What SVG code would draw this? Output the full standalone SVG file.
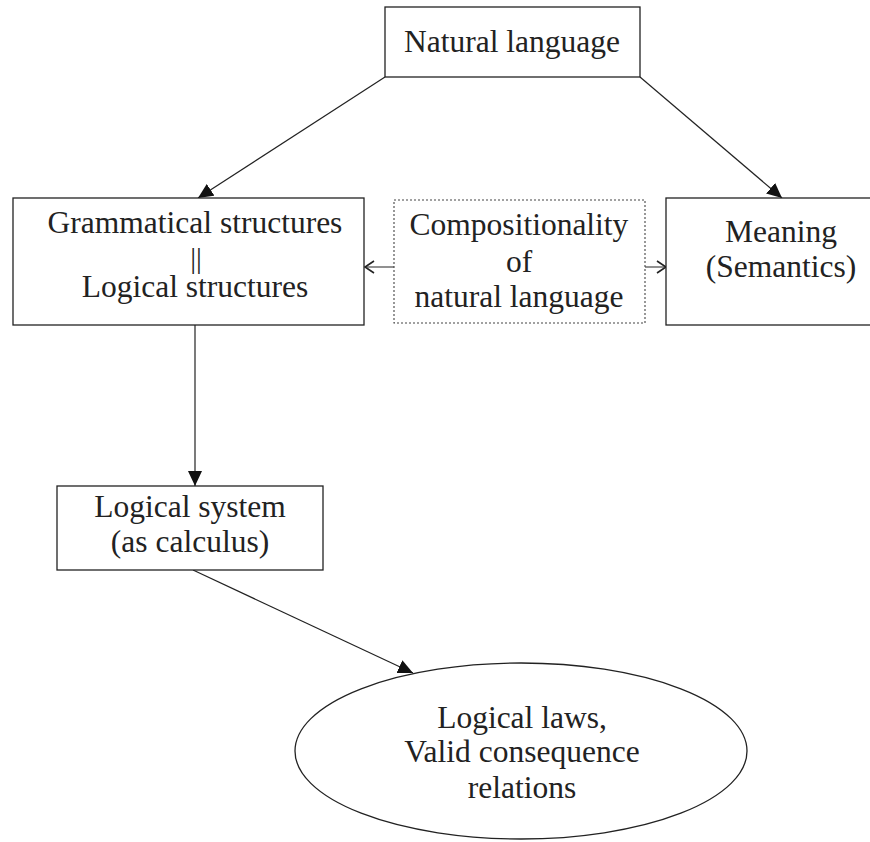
<svg xmlns="http://www.w3.org/2000/svg" width="870" height="842" viewBox="0 0 870 842">
<defs>
<style>
.box{fill:#fff;stroke:#222;stroke-width:1.3}
.dash{fill:#fff;stroke:#444;stroke-width:1.1;stroke-dasharray:2 2}
.t{font-size:31.5px;fill:#222;text-anchor:middle}
.ln{stroke:#222;stroke-width:1.2;fill:none}
.gl{stroke:#555;stroke-width:1.3;fill:none}
</style>
<marker id="tri" markerUnits="userSpaceOnUse" markerWidth="16" markerHeight="14" refX="15" refY="7" orient="auto">
<path d="M0,0 L15,7 L0,14 Z" fill="#111"/>
</marker>
<marker id="chev" markerUnits="userSpaceOnUse" markerWidth="12" markerHeight="14" refX="10" refY="7" orient="auto">
<path d="M1,1 L10,7 L1,13" fill="none" stroke="#222" stroke-width="1.6"/>
</marker>
</defs>
<rect width="870" height="842" fill="#fff"/>
<g id="connectors">
<line class="ln" x1="385" y1="77" x2="198" y2="198" marker-end="url(#tri)"/>
<line class="ln" x1="640" y1="77" x2="782" y2="198" marker-end="url(#tri)"/>
<line class="gl" x1="394" y1="267" x2="365" y2="267" marker-end="url(#chev)"/>
<line class="gl" x1="645" y1="267" x2="666" y2="267" marker-end="url(#chev)"/>
<line class="ln" x1="195" y1="325" x2="195" y2="486" marker-end="url(#tri)"/>
<line class="ln" x1="193" y1="570" x2="413" y2="673" marker-end="url(#tri)"/>
</g>
<g font-family="'Liberation Serif', 'Times New Roman', serif">
<g id="natural-language">
<rect class="box" x="385" y="7" width="255" height="70"/>
<text class="t" x="512" y="52">Natural language</text>
</g>
<g id="grammatical-structures">
<rect class="box" x="13" y="198" width="351" height="127"/>
<text class="t" x="195" y="233">Grammatical structures</text>
<text class="t" x="196" y="268" style="font-size:29px">||</text>
<text class="t" x="195" y="297">Logical structures</text>
</g>
<g id="compositionality">
<rect class="dash" x="394" y="200" width="251" height="123"/>
<text class="t" x="519" y="235">Compositionality</text>
<text class="t" x="519" y="272">of</text>
<text class="t" x="519" y="307">natural language</text>
</g>
<g id="meaning">
<rect class="box" x="666" y="198" width="210" height="127"/>
<text class="t" x="781" y="242">Meaning</text>
<text class="t" x="781" y="277">(Semantics)</text>
</g>
<g id="logical-system">
<rect class="box" x="57" y="486" width="266" height="84"/>
<text class="t" x="190" y="517">Logical system</text>
<text class="t" x="190" y="552">(as calculus)</text>
</g>
<g id="logical-laws">
<ellipse class="box" cx="521" cy="751" rx="226" ry="88"/>
<text class="t" x="522" y="728">Logical laws,</text>
<text class="t" x="522" y="762">Valid consequence</text>
<text class="t" x="522" y="798">relations</text>
</g>
</g>
</svg>
